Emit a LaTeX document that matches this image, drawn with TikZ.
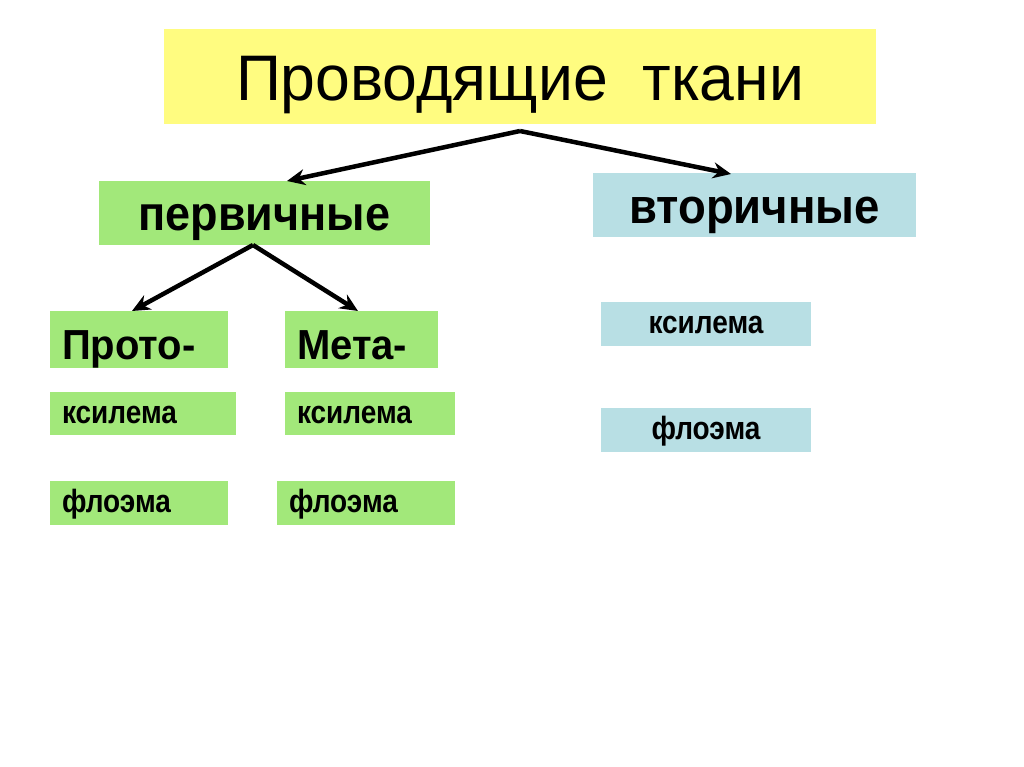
\documentclass[tikz,border=0pt]{standalone}
\usepackage{graphicx}
\usepackage{fontspec}
\setmainfont{Liberation Sans}
\usetikzlibrary{arrows.meta}
\definecolor{ttl}{RGB}{255,252,128}
\definecolor{grn}{RGB}{162,232,122}
\definecolor{blu}{RGB}{184,223,228}
\newcommand{\vs}[2]{\scalebox{1}[#1]{#2}}
\tikzset{
  box/.style={fill=#1, inner sep=0pt, outer sep=0pt, text depth=0pt},
  lbox/.style={fill=#1, inner xsep=12pt, inner ysep=0pt, outer sep=0pt, align=left, text depth=0pt},
  conn/.style={line width=4.5pt, -{Stealth[length=18pt,width=16pt]}},
}
\begin{document}
\begin{tikzpicture}[x=1pt,y=-1pt]
\useasboundingbox (0,0) rectangle (1024,767);
\fill[white] (0,0) rectangle (1024,767);
\node[box=ttl, minimum width=712pt, minimum height=95pt, text height=49pt, font=\fontsize{62.5}{64}\selectfont] (title) at (520,76.5) {\vs{1.03}{Проводящие\ \ ткани}};
\node[box=grn, minimum width=331pt, minimum height=64pt, text height=36pt, font=\fontsize{45}{48}\selectfont\bfseries] (p) at (264.5,213) {\vs{1.08}{первичные}};
\node[box=blu, minimum width=323pt, minimum height=64pt, text height=38pt, font=\fontsize{45.5}{48}\selectfont\bfseries] (v) at (754.5,205) {\vs{1.08}{вторичные}};
\node[lbox=grn, text width=154pt, minimum height=57pt, text height=40pt, font=\fontsize{40}{42}\selectfont\bfseries] (proto) at (139,339.5) {\vs{1.05}{Прото-}};
\node[lbox=grn, text width=129pt, minimum height=57pt, text height=40pt, font=\fontsize{40}{42}\selectfont\bfseries] (meta) at (361.5,339.5) {\vs{1.05}{Мета-}};
\node[lbox=grn, text width=162pt, minimum height=43pt, text height=19pt, font=\fontsize{28}{30}\selectfont\bfseries] (k1) at (143,413.5) {\vs{1.15}{ксилема}};
\node[lbox=grn, text width=146pt, minimum height=43pt, text height=19pt, font=\fontsize{28}{30}\selectfont\bfseries] (k2) at (370,413.5) {\vs{1.15}{ксилема}};
\node[lbox=grn, text width=154pt, minimum height=44pt, text height=19pt, font=\fontsize{28}{30}\selectfont\bfseries] (f1) at (139,503) {\vs{1.15}{флоэма}};
\node[lbox=grn, text width=154pt, minimum height=44pt, text height=19pt, font=\fontsize{28}{30}\selectfont\bfseries] (f2) at (366,503) {\vs{1.15}{флоэма}};
\node[box=blu, minimum width=210pt, minimum height=44pt, text height=19pt, font=\fontsize{28}{30}\selectfont\bfseries] (k3) at (706,324) {\vs{1.15}{ксилема}};
\node[box=blu, minimum width=210pt, minimum height=44pt, text height=19pt, font=\fontsize{28}{30}\selectfont\bfseries] (f3) at (706,430) {\vs{1.15}{флоэма}};
\coordinate (t) at (520,131);
\coordinate (pt) at (287,181);
\coordinate (vt) at (731,174);
\coordinate (pa) at (253,245);
\coordinate (prt) at (132,311);
\coordinate (mt) at (358,311);
\draw[conn] (t) -- (pt);
\draw[conn] (t) -- (vt);
\draw[conn] (pa) -- (prt);
\draw[conn] (pa) -- (mt);
\end{tikzpicture}
\end{document}
